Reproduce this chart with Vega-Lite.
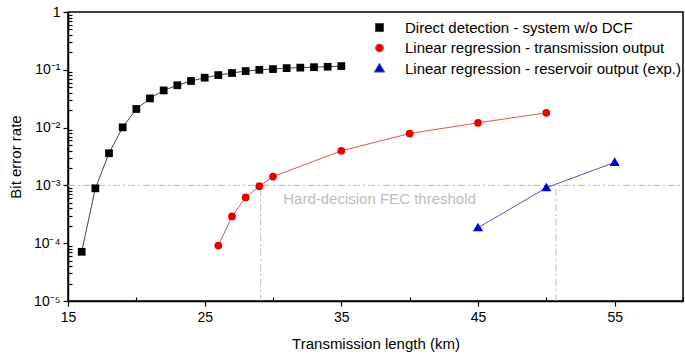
{
  "$schema": "https://vega.github.io/schema/vega-lite/v6.json",
  "width": 615,
  "height": 289,
  "autosize": "none",
  "padding": {"left": 68, "top": 12, "right": 2, "bottom": 53},
  "background": "white",
  "config": {
    "font": "Liberation Sans",
    "view": {"stroke": "black", "strokeWidth": 1.5},
    "axis": {"grid": false, "domainColor": "black", "domainWidth": 1.5, "tickColor": "black", "tickWidth": 1.2, "labelColor": "black", "titleColor": "black", "labelFont": "Liberation Sans", "titleFont": "Liberation Sans", "labelFontSize": 14, "titleFontSize": 15, "titleFontWeight": "normal"}
  },
  "datasets": {
    "ber": [
      {"series": "Direct detection - system w/o DCF", "km": 16, "ber": 0.000071},
      {"series": "Direct detection - system w/o DCF", "km": 17, "ber": 0.00089},
      {"series": "Direct detection - system w/o DCF", "km": 18, "ber": 0.0036},
      {"series": "Direct detection - system w/o DCF", "km": 19, "ber": 0.0101},
      {"series": "Direct detection - system w/o DCF", "km": 20, "ber": 0.021},
      {"series": "Direct detection - system w/o DCF", "km": 21, "ber": 0.032},
      {"series": "Direct detection - system w/o DCF", "km": 22, "ber": 0.044},
      {"series": "Direct detection - system w/o DCF", "km": 23, "ber": 0.054},
      {"series": "Direct detection - system w/o DCF", "km": 24, "ber": 0.064},
      {"series": "Direct detection - system w/o DCF", "km": 25, "ber": 0.073},
      {"series": "Direct detection - system w/o DCF", "km": 26, "ber": 0.081},
      {"series": "Direct detection - system w/o DCF", "km": 27, "ber": 0.088},
      {"series": "Direct detection - system w/o DCF", "km": 28, "ber": 0.095},
      {"series": "Direct detection - system w/o DCF", "km": 29, "ber": 0.1},
      {"series": "Direct detection - system w/o DCF", "km": 30, "ber": 0.103},
      {"series": "Direct detection - system w/o DCF", "km": 31, "ber": 0.107},
      {"series": "Direct detection - system w/o DCF", "km": 32, "ber": 0.109},
      {"series": "Direct detection - system w/o DCF", "km": 33, "ber": 0.111},
      {"series": "Direct detection - system w/o DCF", "km": 34, "ber": 0.113},
      {"series": "Direct detection - system w/o DCF", "km": 35, "ber": 0.116},
      {"series": "Linear regression - transmission output", "km": 26, "ber": 0.000091},
      {"series": "Linear regression - transmission output", "km": 27, "ber": 0.00029},
      {"series": "Linear regression - transmission output", "km": 28, "ber": 0.00062},
      {"series": "Linear regression - transmission output", "km": 29, "ber": 0.00097},
      {"series": "Linear regression - transmission output", "km": 30, "ber": 0.00142},
      {"series": "Linear regression - transmission output", "km": 35, "ber": 0.00396},
      {"series": "Linear regression - transmission output", "km": 40, "ber": 0.0079},
      {"series": "Linear regression - transmission output", "km": 45, "ber": 0.0121},
      {"series": "Linear regression - transmission output", "km": 50, "ber": 0.018},
      {"series": "Linear regression - reservoir output (exp.)", "km": 45, "ber": 0.000185},
      {"series": "Linear regression - reservoir output (exp.)", "km": 50, "ber": 0.00091},
      {"series": "Linear regression - reservoir output (exp.)", "km": 55, "ber": 0.0025}
    ],
    "rules": [
      {"km": 15, "km2": 60, "ber": 0.001, "ber2": 0.001},
      {"km": 29.1, "km2": 29.1, "ber": 0.00001, "ber2": 0.001},
      {"km": 50.7, "km2": 50.7, "ber": 0.00001, "ber2": 0.001}
    ],
    "note": [
      {"km": 30.75, "ber": 0.00059, "text": "Hard-decision FEC threshold"}
    ]
  },
  "encoding": {
    "x": {"field": "km", "type": "quantitative", "scale": {"domain": [15, 60], "nice": false, "zero": false},
      "axis": {"title": "Transmission length (km)", "values": [15, 20, 25, 30, 35, 40, 45, 50, 55, 60],
        "labelExpr": "(datum.value - 15) % 10 == 0 ? datum.label : ''",
        "tickSize": {"condition": {"test": "(datum.value - 15) % 10 == 0", "value": 5}, "value": -4},
        "labelPadding": 4, "titlePadding": 12, "labelFlush": false}},
    "y": {"field": "ber", "type": "quantitative", "scale": {"type": "log", "domain": [0.00001, 1], "nice": false},
      "axis": {"title": "Bit error rate",
        "values": [0.00001, 0.00002, 0.00003, 0.00004, 0.00005, 0.00006, 0.00007, 0.00008, 0.00009, 0.0001, 0.0002, 0.0003, 0.0004, 0.0005, 0.0006, 0.0007, 0.0008, 0.0009, 0.001, 0.002, 0.003, 0.004, 0.005, 0.006, 0.007, 0.008, 0.009, 0.01, 0.02, 0.03, 0.04, 0.05, 0.06, 0.07, 0.08, 0.09, 0.1, 0.2, 0.3, 0.4, 0.5, 0.6, 0.7, 0.8, 0.9, 1],
        "labelExpr": "datum.value == 1 ? '1' : datum.value == 0.1 ? '10⁻¹' : datum.value == 0.01 ? '10⁻²' : datum.value == 0.001 ? '10⁻³' : datum.value == 0.0001 ? '10⁻⁴' : datum.value == 0.00001 ? '10⁻⁵' : ''",
        "tickSize": {"condition": {"test": "datum.value == 1 || datum.value == 0.1 || datum.value == 0.01 || datum.value == 0.001 || datum.value == 0.0001 || datum.value == 0.00001", "value": 5}, "value": -4},
        "labelPadding": 3, "titlePadding": 10, "labelFlush": false, "labelOverlap": false}}
  },
  "layer": [
    {
      "data": {"name": "rules"},
      "mark": {"type": "rule", "color": "#bdbdbd", "strokeWidth": 1, "strokeDash": [7, 3, 2, 3]},
      "encoding": {
        "x2": {"field": "km2"},
        "y2": {"field": "ber2"}
      }
    },
    {
      "data": {"name": "note"},
      "mark": {"type": "text", "align": "left", "baseline": "middle", "fontSize": 15, "color": "#bdbdbd"},
      "encoding": {
        "text": {"field": "text"}
      }
    },
    {
      "data": {"name": "ber"},
      "mark": {"type": "line", "strokeWidth": 1},
      "encoding": {
        "stroke": {"field": "series", "type": "nominal",
          "scale": {"domain": ["Direct detection - system w/o DCF", "Linear regression - transmission output", "Linear regression - reservoir output (exp.)"], "range": ["#444444", "#e25555", "#5555c8"]}},
        "order": {"field": "km", "type": "quantitative"}
      }
    },
    {
      "data": {"name": "ber"},
      "mark": {"type": "point", "filled": true, "opacity": 1, "strokeWidth": 0, "size": 60},
      "encoding": {
        "fill": {"field": "series", "type": "nominal",
          "scale": {"domain": ["Direct detection - system w/o DCF", "Linear regression - transmission output", "Linear regression - reservoir output (exp.)"], "range": ["#000000", "#e80000", "#0000cc"]},
          "legend": {"title": null, "orient": "none", "legendX": 304, "legendY": 8, "padding": 0,
            "symbolSize": 64, "clipHeight": 15, "rowPadding": 4.5, "labelOffset": 18,
            "labelFontSize": 15, "labelFont": "Liberation Sans", "labelColor": "black", "labelLimit": 400,
            "symbolStrokeWidth": 1, "symbolOpacity": 1}},
        "shape": {"field": "series", "type": "nominal",
          "scale": {"domain": ["Direct detection - system w/o DCF", "Linear regression - transmission output", "Linear regression - reservoir output (exp.)"], "range": ["square", "circle", "M0,-1.3L1.3,0.9L-1.3,0.9Z"]}}
      }
    }
  ]
}
